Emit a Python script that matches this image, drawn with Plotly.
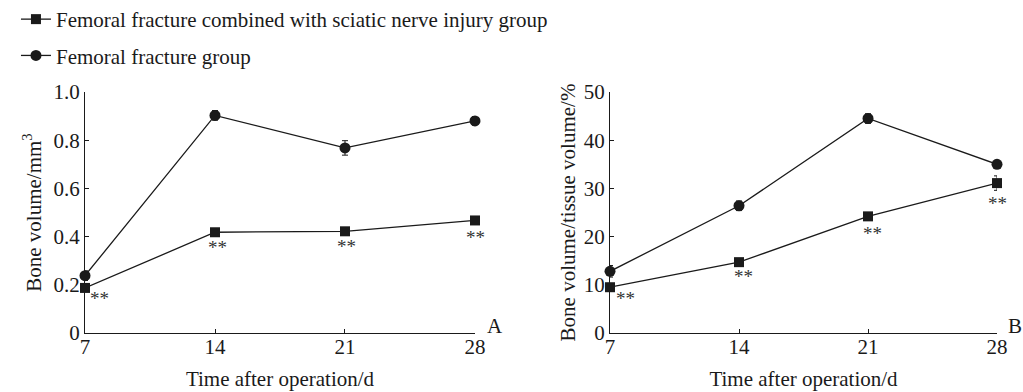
import plotly.graph_objects as go

days = [7, 14, 21, 28]
day_labels = ["7", "14", "21", "28"]

# Panel A: Bone volume (mm^3)
bv_combined = [0.187, 0.418, 0.422, 0.467]
bv_combined_err = [0.01, 0.008, 0.008, 0.01]
bv_fracture = [0.238, 0.903, 0.768, 0.880]
bv_fracture_err = [0.02, 0.02, 0.03, 0.018]

# Panel B: Bone volume / tissue volume (%)
bvtv_combined = [9.5, 14.7, 24.2, 31.1]
bvtv_combined_err = [0.5, 0.5, 0.6, 1.5]
bvtv_fracture = [12.8, 26.4, 44.5, 35.0]
bvtv_fracture_err = [1.2, 1.0, 1.0, 0.8]

sig_marks = ["**", "**", "**", "**"]

name_combined = "Femoral fracture combined with sciatic nerve injury group"
name_fracture = "Femoral fracture group"

FONT = "Liberation Serif"
BLACK = "#1a1a1a"
FS = 21

fig = go.Figure()


def add_series(y, err, xa, ya, symbol, size, name, show, group):
    fig.add_trace(go.Scatter(
        x=days, y=y, mode="lines+markers", name=name,
        xaxis=xa, yaxis=ya, legendgroup=group, showlegend=show,
        line=dict(color=BLACK, width=1.3),
        marker=dict(symbol=symbol, size=size, color=BLACK),
        error_y=dict(type="data", array=err, visible=True,
                     color=BLACK, thickness=1, width=3),
        cliponaxis=False,
    ))


add_series(bv_combined, bv_combined_err, "x", "y", "square", 10, name_combined, True, "g1")
add_series(bv_fracture, bv_fracture_err, "x", "y", "circle", 11, name_fracture, True, "g2")
add_series(bvtv_combined, bvtv_combined_err, "x2", "y2", "square", 10, name_combined, False, "g1")
add_series(bvtv_fracture, bvtv_fracture_err, "x2", "y2", "circle", 11, name_fracture, False, "g2")

annotations = []
# significance marks under the combined-group points
shifts = [(14, -11), (2, -15), (2, -15), (1, -17)]
shifts_b = [(15, -11), (4, -14), (4, -17), (0, -20)]
for i, d in enumerate(days):
    annotations.append(dict(x=d, y=bv_combined[i], xref="x", yref="y", text=sig_marks[i],
                            showarrow=False, xshift=shifts[i][0], yshift=shifts[i][1],
                            font=dict(family=FONT, size=19, color="#333")))
    annotations.append(dict(x=d, y=bvtv_combined[i], xref="x2", yref="y2", text=sig_marks[i],
                            showarrow=False, xshift=shifts_b[i][0], yshift=shifts_b[i][1],
                            font=dict(family=FONT, size=19, color="#333")))

# panel letters
annotations.append(dict(x=28, y=0, xref="x", yref="y", text="A", showarrow=False,
                        xshift=20, yshift=7, font=dict(family=FONT, size=FS, color=BLACK)))
annotations.append(dict(x=28, y=0, xref="x2", yref="y2", text="B", showarrow=False,
                        xshift=18, yshift=7, font=dict(family=FONT, size=FS, color=BLACK)))

axis_common = dict(showline=True, linecolor=BLACK, linewidth=1.2, showgrid=False,
                   zeroline=False, ticks="inside", ticklen=4, tickcolor=BLACK,
                   automargin=False,
                   tickfont=dict(family=FONT, size=FS, color=BLACK))

xaxis_common = dict(axis_common, range=[7, 28], tickvals=days, ticktext=day_labels,
                    ticklabelstandoff=-5,
                    title=dict(text="Time after operation/d",
                               font=dict(family=FONT, size=FS, color=BLACK), standoff=12))

fig.update_layout(
    width=1023, height=392,
    margin=dict(l=0, r=0, t=0, b=0, autoexpand=False),
    paper_bgcolor="white", plot_bgcolor="white",
    font=dict(family=FONT, color=BLACK),
    showlegend=True,
    legend=dict(x=0.0156, y=1.0026, xanchor="left", yanchor="top",
                font=dict(family=FONT, size=FS, color=BLACK), tracegroupgap=6,
                bgcolor="rgba(0,0,0,0)"),
    xaxis=dict(xaxis_common, domain=[0.0831, 0.4643], anchor="y"),
    yaxis=dict(axis_common, domain=[0.1505, 0.7653], anchor="x", range=[0, 1.0],
               tickvals=[0, 0.2, 0.4, 0.6, 0.8, 1.0], ticktext=["0", "0.2", "0.4", "0.6", "0.8", "1.0"],
               title=dict(text="Bone volume/mm<sup>3</sup>",
                          font=dict(family=FONT, size=FS, color=BLACK), standoff=6)),
    xaxis2=dict(xaxis_common, domain=[0.5963, 0.9746], anchor="y2"),
    yaxis2=dict(axis_common, domain=[0.1505, 0.7653], anchor="x2", range=[0, 50],
                tickvals=[0, 10, 20, 30, 40, 50],
                title=dict(text="Bone volume/tissue volume/%",
                           font=dict(family=FONT, size=FS, color=BLACK), standoff=2)),
    annotations=annotations,
)

fig.write_html("out.html", config={"displayModeBar": False},
               post_script="document.body.style.margin='0';document.body.style.overflow='hidden';")
